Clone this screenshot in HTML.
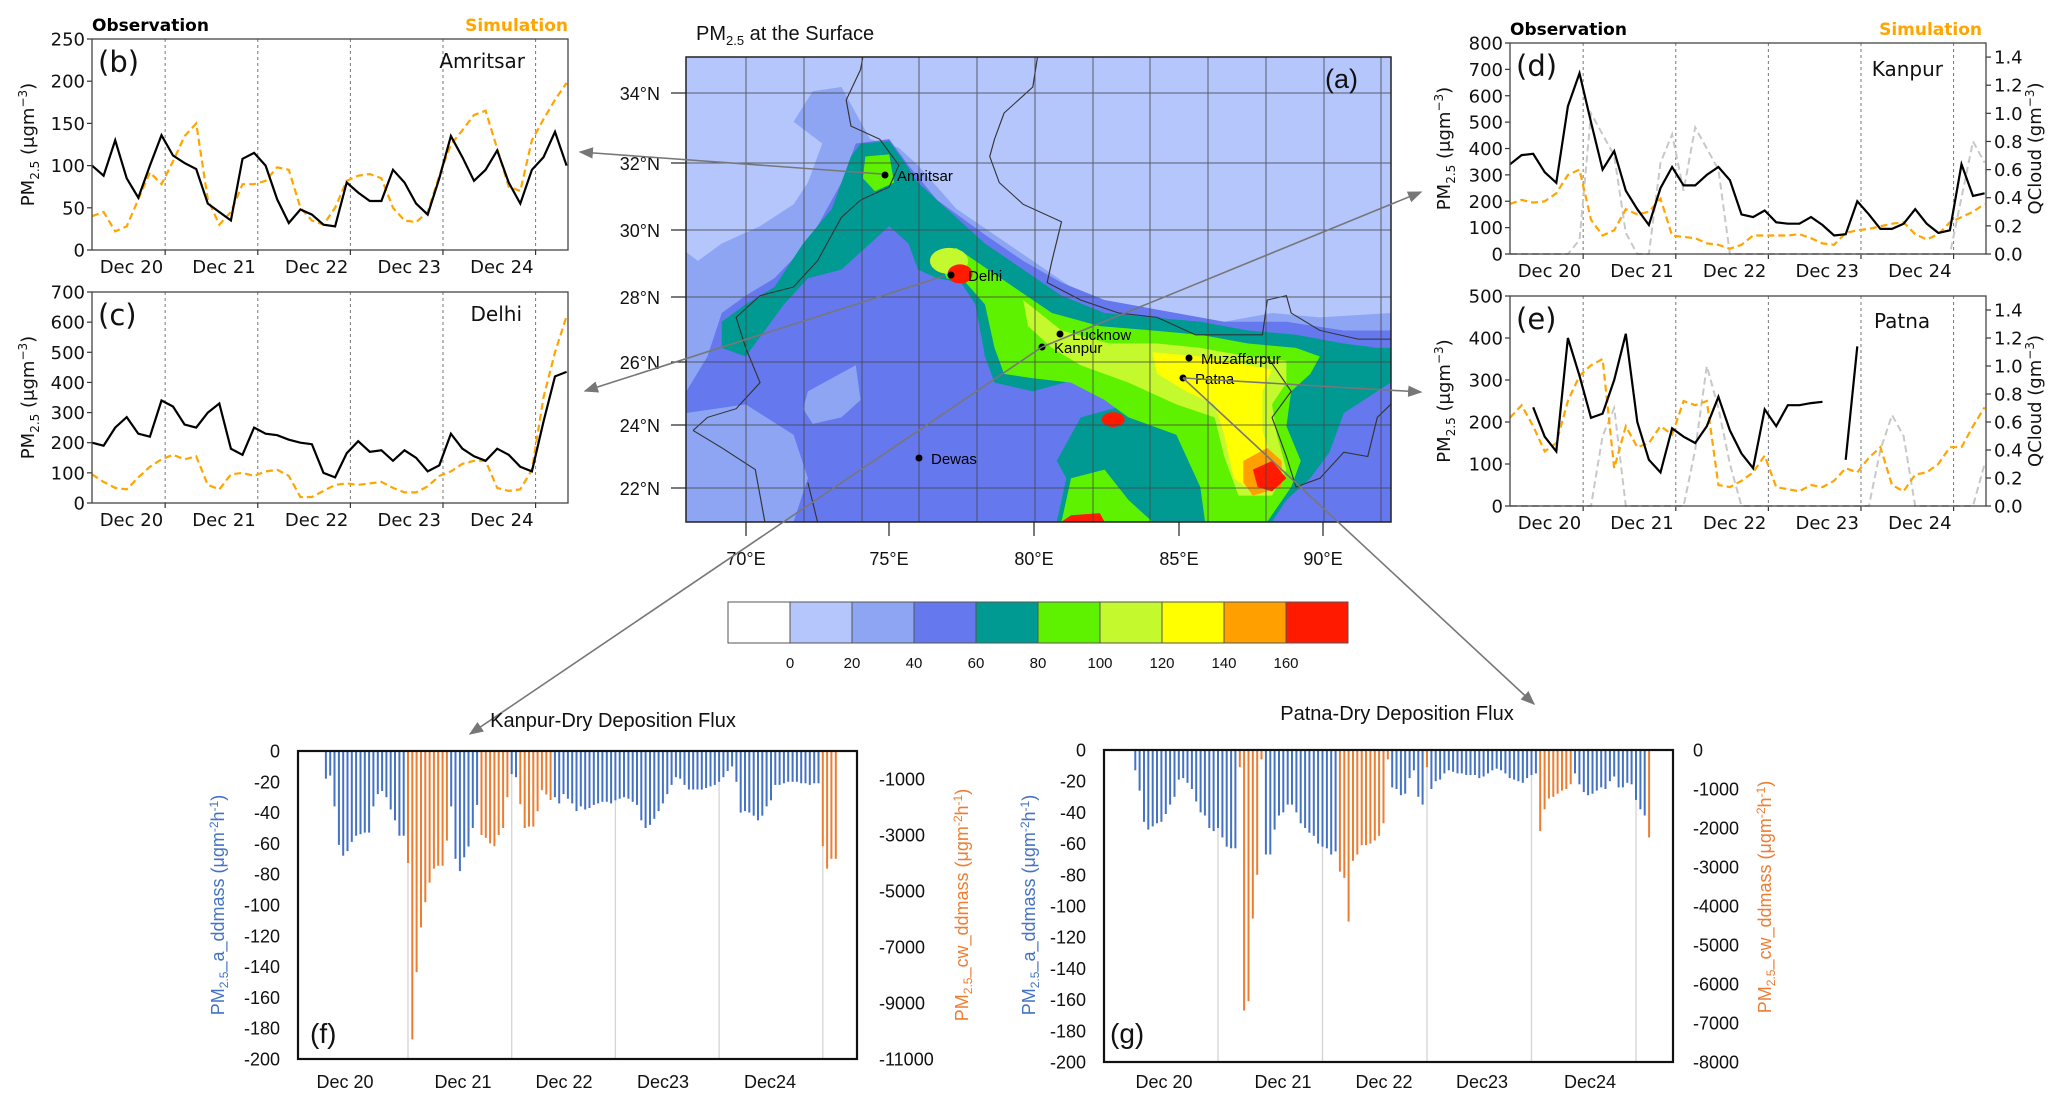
<!DOCTYPE html>
<html><head><meta charset="utf-8"><title>PM2.5 figure</title>
<style>
html,body{margin:0;padding:0;background:#fff;}
svg{display:block;}
.mpl{font-family:"DejaVu Sans","Liberation Sans",sans-serif;}
.lib{font-family:"Liberation Sans",sans-serif;}
</style></head>
<body>
<svg id="fig" xmlns="http://www.w3.org/2000/svg" width="2067" height="1107" viewBox="0 0 2067 1107">
<rect x="0" y="0" width="2067" height="1107" fill="#fff"/>
<defs>
<clipPath id="mapclip"><rect x="686" y="57" width="705" height="465"/></clipPath>
<marker id="arr" viewBox="0 0 10 10" refX="9" refY="5" markerWidth="9" markerHeight="9" orient="auto-start-reverse"><path d="M0,1 L10,5 L0,9 z" fill="#777"/></marker>
</defs>

<!-- MAP -->
<g id="map">
<text x="696" y="40" class="lib" font-size="20" fill="#111">PM<tspan font-size="13" dy="5">2.5</tspan><tspan dy="-5"> at the Surface</tspan></text>
<g clip-path="url(#mapclip)">
<g transform="translate(650,0) scale(0.4785,0.4348)">
<rect x="0" y="0" width="1600" height="1300" fill="#b4c6fc"/>
<polygon fill="#8ea5f4" points="76,580 100,600 150,560 230,520 300,470 330,420 360,330 300,280 340,210 400,200 430,260 460,320 520,340 560,380 640,480 720,540 800,600 880,660 960,700 1060,720 1200,740 1300,720 1400,730 1548,720 1548,1200 76,1200"/>
<polygon fill="#6678ee" points="76,900 120,820 150,720 200,680 260,640 330,560 400,420 430,330 500,320 540,380 600,460 700,540 780,600 860,650 950,690 1050,710 1200,740 1330,740 1450,760 1548,760 1548,1200 76,1200"/>
<polygon fill="#8ea5f4" points="330,900 380,870 430,840 440,920 400,960 340,975 320,940"/>
<polygon fill="#8ea5f4" points="76,950 200,930 300,1000 330,1100 300,1200 76,1200"/>
<polygon fill="#009a93" points="150,800 150,740 200,700 260,660 320,560 380,480 420,360 440,330 500,325 530,370 560,420 620,480 700,560 780,620 860,680 950,720 1050,730 1150,740 1250,760 1350,770 1450,790 1520,800 1548,800 1548,880 1450,950 1420,1040 1380,1100 1330,1150 1300,1200 850,1200 870,1100 850,1060 900,960 1000,930 1100,900 1000,860 900,870 800,900 720,880 700,820 680,700 650,650 600,640 560,620 540,560 500,520 460,560 400,620 330,640 280,700 240,760 200,820"/>
<polygon fill="#5ef200" points="600,590 640,570 680,600 760,660 840,720 940,750 1050,760 1150,770 1250,790 1350,800 1400,820 1380,860 1340,900 1330,980 1360,1060 1340,1120 1290,1200 1160,1200 1150,1120 1100,1000 1000,960 950,920 880,880 800,870 740,860 720,800 700,700 660,650 620,640"/>
<polygon fill="#5ef200" points="860,1200 880,1100 950,1080 1000,1150 1050,1200"/>
<polygon fill="#5ef200" points="450,360 500,355 510,420 470,440 445,410"/>
<polygon fill="#c4f92e" points="780,690 860,760 960,790 1060,790 1150,800 1250,820 1330,830 1330,880 1300,930 1310,1000 1330,1080 1300,1140 1230,1140 1200,1050 1180,960 1100,930 1000,880 900,840 840,800 790,750"/>
<polygon fill="#ffff00" points="1050,810 1150,820 1250,840 1300,850 1280,900 1280,990 1300,1060 1260,1130 1220,1100 1200,1000 1180,930 1120,900 1060,860"/>
<polygon fill="#ffa000" points="1240,1060 1290,1030 1320,1060 1320,1120 1260,1140 1240,1110"/>
<polygon fill="#ff1a00" points="1260,1080 1300,1060 1330,1100 1300,1130 1270,1120"/>
<ellipse cx="625" cy="600" rx="40" ry="30" fill="#c4f92e"/>
<ellipse cx="648" cy="630" rx="26" ry="22" fill="#ff1a00"/>
<ellipse cx="968" cy="965" rx="24" ry="17" fill="#ff1a00"/>
<polygon fill="#ff1a00" points="860,1200 880,1185 940,1180 950,1200"/>
<g fill="none" stroke="#333" stroke-width="2.4">
<polyline points="90,990 120,960 180,940 230,880 200,800 180,730 230,680 300,660 350,600 400,500 440,460 500,430 520,380 480,320 420,290 410,230 440,160 445,130"/>
<polyline points="810,130 800,200 740,260 720,320 710,360 730,420 780,470 860,510 840,600 830,650 900,690 980,720 1060,730 1140,770 1280,770 1290,690 1330,680 1340,720 1400,760 1480,780 1548,780"/>
<polyline points="1290,820 1340,900 1300,960 1330,1050 1350,1120 1400,1100 1450,1040 1500,1050 1520,960 1548,930"/>
<polyline points="90,990 150,1030 220,1080 240,1200"/>
<polyline points="330,1110 350,1200"/>
</g>
</g>
<g stroke="#444" stroke-width="1" opacity="0.8">
<line x1="746" y1="57" x2="746" y2="522"/><line x1="804" y1="57" x2="804" y2="522"/><line x1="862" y1="57" x2="862" y2="522"/><line x1="919" y1="57" x2="919" y2="522"/><line x1="977" y1="57" x2="977" y2="522"/><line x1="1035" y1="57" x2="1035" y2="522"/><line x1="1093" y1="57" x2="1093" y2="522"/><line x1="1150" y1="57" x2="1150" y2="522"/><line x1="1208" y1="57" x2="1208" y2="522"/><line x1="1266" y1="57" x2="1266" y2="522"/><line x1="1324" y1="57" x2="1324" y2="522"/><line x1="1381" y1="57" x2="1381" y2="522"/>
<line x1="686" y1="93" x2="1391" y2="93"/><line x1="686" y1="163" x2="1391" y2="163"/><line x1="686" y1="230" x2="1391" y2="230"/><line x1="686" y1="297" x2="1391" y2="297"/><line x1="686" y1="362" x2="1391" y2="362"/><line x1="686" y1="425" x2="1391" y2="425"/><line x1="686" y1="488" x2="1391" y2="488"/>
</g>
</g>
<rect x="686" y="57" width="705" height="465" fill="none" stroke="#222" stroke-width="1.5"/>
<text x="1325" y="88" class="lib" font-size="27" fill="#111">(a)</text>
<g class="lib" font-size="18" fill="#111" text-anchor="end">
<text x="660" y="100">34°N</text><text x="660" y="170">32°N</text><text x="660" y="237">30°N</text><text x="660" y="304">28°N</text><text x="660" y="369">26°N</text><text x="660" y="432">24°N</text><text x="660" y="495">22°N</text>
</g>
<g stroke="#222" stroke-width="1.2">
<line x1="671" y1="93" x2="686" y2="93"/><line x1="671" y1="163" x2="686" y2="163"/><line x1="671" y1="230" x2="686" y2="230"/><line x1="671" y1="297" x2="686" y2="297"/><line x1="671" y1="362" x2="686" y2="362"/><line x1="671" y1="425" x2="686" y2="425"/><line x1="671" y1="488" x2="686" y2="488"/>
<line x1="746" y1="522" x2="746" y2="536"/><line x1="889" y1="522" x2="889" y2="536"/><line x1="1034" y1="522" x2="1034" y2="536"/><line x1="1179" y1="522" x2="1179" y2="536"/><line x1="1323" y1="522" x2="1323" y2="536"/>
</g>
<g class="lib" font-size="18" fill="#111" text-anchor="middle">
<text x="746" y="565">70°E</text><text x="889" y="565">75°E</text><text x="1034" y="565">80°E</text><text x="1179" y="565">85°E</text><text x="1323" y="565">90°E</text>
</g>
<g class="lib" font-size="15" fill="#000">
<circle cx="885" cy="175" r="3.5"/><text x="897" y="181">Amritsar</text>
<circle cx="951" cy="275" r="3.5"/><text x="968" y="281">Delhi</text>
<circle cx="1060" cy="334" r="3.5"/><text x="1072" y="340">Lucknow</text>
<circle cx="1042" cy="347" r="3.5"/><text x="1054" y="353">Kanpur</text>
<circle cx="1189" cy="358" r="3.5"/><text x="1201" y="364">Muzaffarpur</text>
<circle cx="1183" cy="378" r="3.5"/><text x="1195" y="384">Patna</text>
<circle cx="919" cy="458" r="3.5"/><text x="931" y="464">Dewas</text>
</g>
<g id="colorbar"></g>
<g stroke="#777" stroke-width="1.6" fill="none">
<line x1="882" y1="174" x2="580" y2="152" marker-end="url(#arr)"/>
<line x1="944" y1="276" x2="585" y2="391" marker-end="url(#arr)"/>
<line x1="1042" y1="347" x2="1421" y2="192" marker-end="url(#arr)"/>
<line x1="1183" y1="378" x2="1421" y2="392" marker-end="url(#arr)"/>
<line x1="1042" y1="347" x2="470" y2="734" marker-end="url(#arr)"/>
<line x1="1183" y1="378" x2="1534" y2="704" marker-end="url(#arr)"/>
</g>

<g id="charts"></g>

<!-- static text for bar panels -->
<text x="613" y="727" class="lib" font-size="20" fill="#111" text-anchor="middle">Kanpur-Dry Deposition Flux</text>
<text x="1397" y="720" class="lib" font-size="20" fill="#111" text-anchor="middle">Patna-Dry Deposition Flux</text>
<g class="lib" font-size="18" fill="#111" text-anchor="middle">
<text x="345" y="1088">Dec 20</text><text x="463" y="1088">Dec 21</text><text x="564" y="1088">Dec 22</text><text x="663" y="1088">Dec23</text><text x="770" y="1088">Dec24</text>
</g>
<g class="lib" font-size="18" fill="#111" text-anchor="middle">
<text x="1164" y="1088">Dec 20</text><text x="1283" y="1088">Dec 21</text><text x="1384" y="1088">Dec 22</text><text x="1482" y="1088">Dec23</text><text x="1590" y="1088">Dec24</text>
</g>
<text x="310" y="1043" class="lib" font-size="28" fill="#111">(f)</text>
<text x="1110" y="1043" class="lib" font-size="28" fill="#111">(g)</text>
<text transform="translate(224,905) rotate(-90)" class="lib" font-size="18" fill="#4472c4" text-anchor="middle">PM<tspan font-size="12" dy="4">2.5</tspan><tspan dy="-4">_a_ddmass (μgm</tspan><tspan font-size="12" dy="-6">-2</tspan><tspan dy="6">h</tspan><tspan font-size="12" dy="-6">-1</tspan><tspan dy="6">)</tspan></text>
<text transform="translate(968,905) rotate(-90)" class="lib" font-size="18" fill="#ed7d31" text-anchor="middle">PM<tspan font-size="12" dy="4">2.5</tspan><tspan dy="-4">_cw_ddmass (μgm</tspan><tspan font-size="12" dy="-6">-2</tspan><tspan dy="6">h</tspan><tspan font-size="12" dy="-6">-1</tspan><tspan dy="6">)</tspan></text>
<text transform="translate(1035,905) rotate(-90)" class="lib" font-size="18" fill="#4472c4" text-anchor="middle">PM<tspan font-size="12" dy="4">2.5</tspan><tspan dy="-4">_a_ddmass (μgm</tspan><tspan font-size="12" dy="-6">-2</tspan><tspan dy="6">h</tspan><tspan font-size="12" dy="-6">-1</tspan><tspan dy="6">)</tspan></text>
<text transform="translate(1771,897) rotate(-90)" class="lib" font-size="18" fill="#ed7d31" text-anchor="middle">PM<tspan font-size="12" dy="4">2.5</tspan><tspan dy="-4">_cw_ddmass (μgm</tspan><tspan font-size="12" dy="-6">-2</tspan><tspan dy="6">h</tspan><tspan font-size="12" dy="-6">-1</tspan><tspan dy="6">)</tspan></text>
</svg>

<script>
// ---------- data ----------
const cbColors = ["#ffffff","#b4c6fc","#8ea5f4","#6678ee","#009a93","#5ef200","#c4f92e","#ffff00","#ffa000","#ff1a00"];
const cbLabels = ["0","20","40","60","80","100","120","140","160"];

const dayLabels = ["Dec 20","Dec 21","Dec 22","Dec 23","Dec 24"];
const bObs = [100,88,130,85,62,100,136,112,103,96,55,45,35,108,115,100,60,32,48,42,30,28,80,68,58,58,95,80,55,42,85,135,110,82,95,118,80,55,95,110,140,100];
const bSim = [40,45,22,28,60,92,78,105,135,150,60,30,45,78,78,82,98,95,50,35,30,50,82,88,90,85,50,35,33,45,88,125,142,160,165,120,75,70,130,155,178,198];
const cObs = [200,190,250,285,230,220,340,320,260,250,300,330,180,160,250,230,225,210,200,195,100,85,165,205,170,175,140,175,150,105,125,230,180,155,140,180,160,120,105,270,420,435];
const cSim = [95,70,50,45,85,120,145,160,145,155,60,45,95,100,90,105,110,90,20,20,40,60,65,60,65,70,50,35,35,55,90,105,130,140,140,50,40,45,110,350,500,620];
const dObs = [340,375,380,310,270,560,685,500,320,390,240,170,110,250,330,260,260,300,330,280,150,140,165,120,115,115,140,110,70,75,200,150,95,95,115,170,115,80,90,340,220,230];
const dSim = [190,205,195,200,230,300,320,130,70,90,170,150,160,210,70,65,60,40,35,20,35,70,70,70,70,75,60,40,35,80,90,95,105,115,120,75,55,75,120,140,160,190];
const dQ = [0,0,0,0,0,0,0.1,1.0,0.85,0.7,0.15,0,0,0.65,0.85,0.45,0.9,0.75,0.6,0,0,0,0,0,0,0,0,0,0,0,0,0,0,0,0,0,0,0,0,0.4,0.8,0.65];
const eObs = [null,null,235,165,130,400,310,210,220,300,410,200,110,80,185,165,150,190,260,180,125,90,230,190,240,240,245,248,null,110,380,null,null,null,null,null,null,null,null,null,null,null];
const eSim = [210,240,190,130,150,250,310,335,350,90,190,140,150,190,170,250,240,250,50,45,60,80,120,45,40,35,50,45,60,90,80,115,140,50,35,75,80,100,140,140,190,235];
const eQ = [0,0,0,0,0,0,0,0,0.5,0.7,0,0,0,0,0,0,0.4,1.0,0.7,0.3,0,0,0,0,0,0,0,0,0,0,0,0,0.4,0.65,0.5,0,0,0,0,0,0,0.3];

const fVals = [-18,-16,-36,-61,-68,-65,-59,-55,-54,-53,-53,-36,-28,-26,-30,-38,-45,-55,-55,
 -4000,-10300,-7900,-6300,-5400,-4700,-4200,-4100,-4100,-3200,
 -36,-70,-78,-69,-62,-50,-35,
 -3000,-3100,-3300,-3400,-3000,-2750,-1650,
 -15,-17,
 -1900,-2750,-2700,-2700,-2150,-1400,-1550,-1750,
 -30,-34,-28,-31,-34,-39,-36,-38,-37,-35,-34,-33,-33,-34,-32,-31,-30,-31,-33,-35,
 -45,-50,-48,-44,-39,-34,-28,-22,-17,-18,-22,-25,-25,-25,-25,-24,-23,-22,-20,-17,
 -13,-10,-20,-40,-39,-40,-42,-45,-42,-36,-32,-22,-22,-21,-20,-20,-20,-21,-21,-22,-21,-21,
 -3400,-4200,-3850,-3850];
const fCwRuns = [[19,10],[36,7],[45,8],[115,4]];
const fLeftTicks = [0,-20,-40,-60,-80,-100,-120,-140,-160,-180,-200];
const fRightTicks = [-1000,-3000,-5000,-7000,-9000,-11000];

const gVals = [-13,-26,-46,-51,-49,-47,-46,-41,-35,-30,-19,-18,-21,-25,-33,-40,-42,-50,-52,-50,-56,-62,-63,-63,
 -440,-6680,-6440,-4320,-3200,-240,
 -67,-67,-51,-42,-40,-35,-35,-40,-47,-50,-53,-55,-60,-62,-63,-67,-65,
 -3120,-3280,-4400,-2840,-2680,-2440,-2440,-2400,-2320,-2200,-1880,-240,
 -24,-25,-29,-28,-18,-13,-30,-35,
 -440,
 -25,-20,-19,-15,-13,-14,-15,-15,-16,-16,-16,-18,-17,-15,-13,-12,-13,-15,-18,-19,-20,-21,-18,-16,-15,
 -2080,-1520,-1240,-1200,-1120,-1040,-1000,-880,
 -15,-22,-27,-29,-28,-26,-24,-25,-20,-17,-24,-24,-21,-22,-32,-38,-42,
 -2240];
const gCwRuns = [[24,6],[47,12],[67,1],[93,8],[118,1]];
const gLeftTicks = [0,-20,-40,-60,-80,-100,-120,-140,-160,-180,-200];
const gRightTicks = [0,-1000,-2000,-3000,-4000,-5000,-6000,-7000,-8000];

// ---------- helpers ----------
const NS = "http://www.w3.org/2000/svg";
function mk(parent, tag, attrs, text){
  const el = document.createElementNS(NS, tag);
  for (const k in attrs) el.setAttribute(k, attrs[k]);
  if (text !== undefined) el.textContent = text;
  parent.appendChild(el);
  return el;
}
const charts = document.getElementById("charts");

// colorbar
(function(){
  const g = document.getElementById("colorbar");
  const x0 = 728, w = 62, y0 = 602, h = 41;
  cbColors.forEach((c,i)=>{
    const r = mk(g,"rect",{x:x0+i*w,y:y0,width:w,height:h,fill:c,stroke:"#555","stroke-width":1});
    
    
  });
  cbLabels.forEach((t,i)=>{
    const tx = mk(g,"text",{x:x0+(i+1)*w,y:668,"font-size":15,"text-anchor":"middle",class:"lib",fill:"#111"},t);
    
    
  });
})();

// line charts
const TMIN = -0.79, TMAX = 4.35, DT = 0.125;
function pathFrom(vals, xf, yf){
  let d = "", pen = false;
  vals.forEach((v,i)=>{
    if (v === null){ pen = false; return; }
    d += (pen ? "L" : "M") + xf(i).toFixed(1) + "," + yf(v).toFixed(1) + " ";
    pen = true;
  });
  return d;
}
function lineChart(c){
  const g = mk(charts,"g",{class:"mpl"});
  
  
  const tx = t => c.x0 + (t - TMIN)/(TMAX - TMIN)*(c.x1 - c.x0);
  const xi = i => tx(TMIN + i*DT);
  const yl = v => c.y1 - v/c.ymax*(c.y1 - c.y0);
  const yr = v => c.y1 - v/c.rmax*(c.y1 - c.y0);
  // day lines + labels
  dayLabels.forEach((lab,k)=>{
    const ln = mk(g,"line",{x1:tx(k),x2:tx(k),y1:c.y0,y2:c.y1,stroke:"#777","stroke-width":1,"stroke-dasharray":"3,3"});
    
    
    const tk = mk(g,"line",{x1:tx(k),x2:tx(k),y1:c.y1,y2:c.y1+5,stroke:"#333","stroke-width":1.2});
    
    
    const t = mk(g,"text",{x:tx(k)-2,y:c.y1+23,"font-size":18,"text-anchor":"end",fill:"#111"},lab);
    
    
  });
  // y ticks
  for (let v=0; v<=c.ymax+1e-9; v+=c.ystep){
    const tk = mk(g,"line",{x1:c.x0-5,x2:c.x0,y1:yl(v),y2:yl(v),stroke:"#333","stroke-width":1.2});
    
    
    const t = mk(g,"text",{x:c.x0-7,y:yl(v)+6.5,"font-size":18,"text-anchor":"end",fill:"#111"},String(v));
    
    
  }
  if (c.q){
    for (let k=0;k<=7;k++){
      const v = k*0.2;
      const tk = mk(g,"line",{x1:c.x1,x2:c.x1+5,y1:yr(v),y2:yr(v),stroke:"#333","stroke-width":1.2});
      
      
      const t = mk(g,"text",{x:c.x1+8,y:yr(v)+6.5,"font-size":18,fill:"#111"},v.toFixed(1));
      
      
    }
    const qp = mk(g,"path",{d:pathFrom(c.q,xi,yr),fill:"none",stroke:"#c8c8c8","stroke-width":2,"stroke-dasharray":"7,4"});
    
    
    const rt = mk(g,"text",{transform:`translate(${c.x1+55},${(c.y0+c.y1)/2}) rotate(-90)`,"font-size":18,"text-anchor":"middle",fill:"#111"});
    
    
    rt.innerHTML = 'QCloud (gm<tspan font-size="12" dy="-7">−3</tspan><tspan dy="7">)</tspan>';
  }
  const sp = mk(g,"path",{d:pathFrom(c.sim,xi,yl),fill:"none",stroke:"#ffa500","stroke-width":2.2,"stroke-dasharray":"7,4"});
  
  
  const op = mk(g,"path",{d:pathFrom(c.obs,xi,yl),fill:"none",stroke:"#000","stroke-width":2.2});
  
  
  const box = mk(g,"rect",{x:c.x0,y:c.y0,width:c.x1-c.x0,height:c.y1-c.y0,fill:"none",stroke:"#444","stroke-width":1.3});
  
  
  const lt = mk(g,"text",{transform:`translate(${c.ylx},${(c.y0+c.y1)/2}) rotate(-90)`,"font-size":18,"text-anchor":"middle",fill:"#111"});
  
  
  lt.innerHTML = 'PM<tspan font-size="12" dy="5">2.5</tspan><tspan dy="-5"> (μgm</tspan><tspan font-size="12" dy="-7">−3</tspan><tspan dy="7">)</tspan>';
  const pl = mk(g,"text",{x:c.x0+6,y:c.y0+33,"font-size":29,fill:"#111"},c.panel);
  
  
  const st = mk(g,"text",{x:c.stX,y:c.y0+c.stDy,"font-size":20,"text-anchor":c.stAnchor,fill:"#111"},c.station);
  
  
  if (c.legend){
    const ob = mk(g,"text",{x:c.x0,y:c.y0-8,"font-size":17,"font-weight":"bold",fill:"#000"},"Observation");
    
    
    const sm = mk(g,"text",{x:c.legR,y:c.y0-8,"font-size":17,"font-weight":"bold","text-anchor":"end",fill:"#ffa500"},"Simulation");
    
    
  }
}
lineChart({name:"panel-b-amritsar",x0:92,x1:568,y0:39,y1:250,ymax:250,ystep:50,obs:bObs,sim:bSim,ylx:34,panel:"(b)",station:"Amritsar",stX:525,stDy:29,stAnchor:"end",legend:true,legR:568});
lineChart({name:"panel-c-delhi",x0:92,x1:568,y0:292,y1:503,ymax:700,ystep:100,obs:cObs,sim:cSim,ylx:34,panel:"(c)",station:"Delhi",stX:522,stDy:29,stAnchor:"end"});
lineChart({name:"panel-d-kanpur",x0:1510,x1:1986,y0:43,y1:254,ymax:800,ystep:100,rmax:1.5,obs:dObs,sim:dSim,q:dQ,ylx:1450,panel:"(d)",station:"Kanpur",stX:1943,stDy:33,stAnchor:"end",legend:true,legR:1982});
lineChart({name:"panel-e-patna",x0:1510,x1:1986,y0:296,y1:506,ymax:500,ystep:100,rmax:1.5,obs:eObs,sim:eSim,q:eQ,ylx:1450,panel:"(e)",station:"Patna",stX:1874,stDy:32,stAnchor:"start"});

// bar charts
function barChart(c){
  const g = mk(charts,"g",{class:"lib"});
  
  
  const yl = v => c.y0 + (-v)/200*(c.y1 - c.y0);
  const yr = v => c.y0 + (-v)/c.rmax*(c.y1 - c.y0);
  const xh = h => c.dayX + h*c.dayW/24;
  for (let k=0;k<5;k++){
    const ln = mk(g,"line",{x1:xh(24*k),x2:xh(24*k),y1:c.y0,y2:c.y1,stroke:"#d4d4d4","stroke-width":1.3});
    
    
  }
  const cw = new Array(c.vals.length).fill(false);
  c.runs.forEach(r=>{ for(let i=r[0];i<r[0]+r[1];i++) cw[i]=true; });
  c.vals.forEach((v,i)=>{
    const x = xh(i - 19);
    const y = cw[i] ? yr(v) : yl(v);
    const b = mk(g,"rect",{x:(x-1).toFixed(1),y:c.y0,width:2,height:Math.max(0,y-c.y0).toFixed(1),fill:cw[i]?"#ed7d31":"#4472c4"});
    
    
  });
  c.leftTicks.forEach(v=>{
    const t = mk(g,"text",{x:c.x0-18,y:yl(v)+6.5,"font-size":18,"text-anchor":"end",fill:"#111"},String(v));
    
    
  });
  c.rightTicks.forEach(v=>{
    const t = mk(g,"text",{x:c.rx,y:yr(v)+6.5,"font-size":18,fill:"#111"},String(v));
    
    
  });
  const box = mk(g,"rect",{x:c.x0,y:c.y0,width:c.x1-c.x0,height:c.y1-c.y0,fill:"none",stroke:"#111","stroke-width":2.2});
  
  
}
barChart({name:"panel-f-kanpur-flux",x0:298,x1:857,y0:751,y1:1059,rmax:11000,dayX:408,dayW:103.7,vals:fVals,runs:fCwRuns,leftTicks:fLeftTicks,rightTicks:fRightTicks,rx:879});
barChart({name:"panel-g-patna-flux",x0:1104,x1:1673,y0:750,y1:1062,rmax:8000,dayX:1218,dayW:104.5,vals:gVals,runs:gCwRuns,leftTicks:gLeftTicks,rightTicks:gRightTicks,rx:1693});
</script>
</body></html>
